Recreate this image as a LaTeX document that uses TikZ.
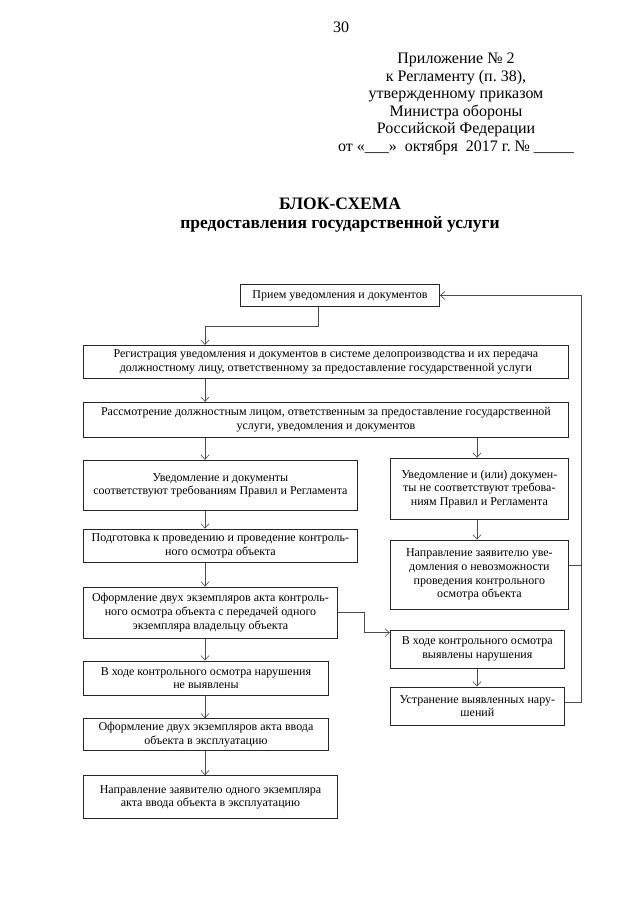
\documentclass[tikz,border=0pt]{standalone}
\usepackage{fontspec}
\setmainfont{Liberation Serif}
\usetikzlibrary{positioning,arrows.meta}

\begin{document}
\begin{tikzpicture}[x=1pt, y=-1pt,
  box/.style={draw=black!85, line width=0.9pt, align=center, inner sep=1pt, font=\fontsize{12}{13.6}\selectfont, minimum width=#1},
  line/.style={draw=black!70, line width=0.6pt},
  >={Straight Barb[length=4.5pt,width=8pt]}]
\useasboundingbox (0,0) rectangle (640,905);
\node[font=\fontsize{16}{18}\selectfont] (pagenum) at (341,27) {30};
\node[font=\fontsize{16}{17.6}\selectfont, align=center] (appendix) at (456,104) {Приложение № 2\\к Регламенту (п.~38),\\утвержденному приказом\\Министра обороны\\Российской Федерации\\от «\_\_\_»~ октября~ 2017~г.~№~\_\_\_\_\_};
\node[font=\fontsize{17.5}{18.5}\selectfont\bfseries, align=center] (title) at (340,215) {БЛОК-СХЕМА\\предоставления государственной услуги};

\node[box=199pt, minimum height=22pt, anchor=north west] (b1) at (240,284) {Прием уведомления и документов};
\node[box=485pt, minimum height=33pt, anchor=north west] (b2) at (83,345) {Регистрация уведомления и документов в системе делопроизводства и их передача\\должностному лицу, ответственному за предоставление государственной услуги};
\node[box=485pt, minimum height=35pt, below=23pt of b2.south west, anchor=north west] (b3) {Рассмотрение должностным лицом, ответственным за предоставление государственной\\услуги, уведомления и документов};
\node[box=274pt, minimum height=50pt, below=22pt of b3.south west, anchor=north west] (b4) {Уведомление и документы\\соответствуют требованиям Правил и Регламента};
\node[box=274pt, minimum height=33pt, below=18pt of b4.south west, anchor=north west] (b5) {Подготовка к проведению и проведение контроль-\\ного осмотра объекта};
\node[box=254pt, minimum height=51pt, below=24pt of b5.south west, anchor=north west] (b6) {Оформление двух экземпляров акта контроль-\\ного осмотра объекта с передачей одного\\экземпляра владельцу объекта};
\node[box=245pt, minimum height=34pt, below=22pt of b6.south west, anchor=north west] (b7) {В ходе контрольного осмотра нарушения\\не выявлены};
\node[box=245pt, minimum height=32pt, below=23pt of b7.south west, anchor=north west] (b8) {Оформление двух экземпляров акта ввода\\объекта в эксплуатацию};
\node[box=254pt, minimum height=43pt, below=24pt of b8.south west, anchor=north west] (b9) {Направление заявителю одного экземпляра\\акта ввода объекта в эксплуатацию};

\node[box=178pt, minimum height=61pt, right=32pt of b4.north east, anchor=north west, yshift=2pt] (r1) {Уведомление и (или) докумен-\\ты не соответствуют требова-\\ниям Правил и Регламента};
\node[box=178pt, minimum height=69pt, below=20pt of r1.south west, anchor=north west] (r2) {Направление заявителю уве-\\домления о невозможности\\проведения контрольного\\осмотра объекта};
\node[box=174pt, minimum height=38pt, below=20pt of r2.south west, anchor=north west] (r3) {В ходе контрольного осмотра\\выявлены нарушения};
\node[box=174pt, minimum height=38pt, below=18pt of r3.south west, anchor=north west] (r4) {Устранение выявленных нару-\\шений};

\coordinate (lane) at (205,0);
\coordinate (rlane) at (477,0);
\coordinate (loop) at (581,0);
\draw[line,->] ([xshift=-22pt]b1.south) -- ++(0,19) -| (b2.north -| lane);
\foreach \a/\b in {b2/b3, b3/b4, b4/b5, b5/b6, b6/b7, b7/b8, b8/b9} \draw[line,->] (\a.south -| lane) -- (\b.north -| lane);
\foreach \a/\b in {b3/r1, r1/r2, r3/r4} \draw[line,->] (\a.south -| rlane) -- (\b.north -| rlane);
\draw[line,->] (b6.east) -- ++(26,0) |- ([yshift=-3pt]r3.north west);
\draw[line] ([yshift=9.5pt]r2.east) -- ([yshift=9.5pt]r2.east -| loop);
\draw[line,->] ([yshift=4pt]r4.east) -| (loop |- b1.east) -- (b1.east);
\end{tikzpicture}
\end{document}
